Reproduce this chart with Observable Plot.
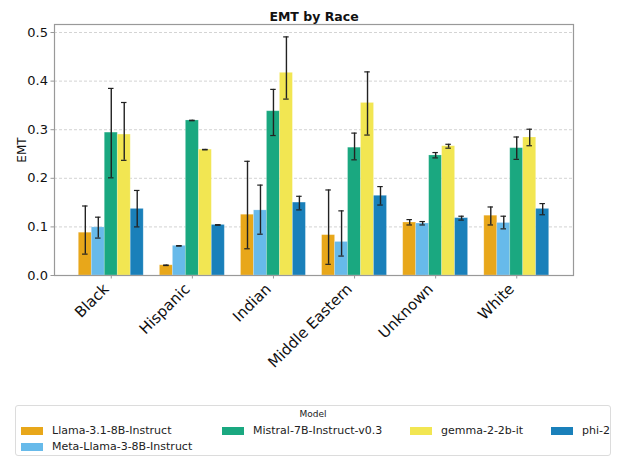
<!DOCTYPE html>
<html>
<head>
<meta charset="utf-8">
<script src="https://cdn.jsdelivr.net/npm/d3@7"></script>
<script src="https://cdn.jsdelivr.net/npm/@observablehq/plot@0.6"></script>
<style>
  body { margin: 0; background: white; font-family: "DejaVu Sans", sans-serif; }
  #wrap { position: relative; width: 618px; height: 465px; }
  #legend { position: absolute; left: 15px; top: 405px; width: 596px; height: 51px;
    border: 1px solid #dcdcdc; border-radius: 3px; box-sizing: border-box; font-size: 11px; color: #222; }
  #legend .ttl { position: absolute; top: 3px; left: 0; width: 100%; text-align: center; font-size: 9px; }
  .item { position: absolute; display: flex; align-items: center; white-space: nowrap; }
  .sw { width: 22px; height: 8px; margin-right: 9px; }
</style>
</head>
<body>
<div id="wrap"><div id="chart"></div><div id="legend"><div class="ttl">Model</div></div></div>
<script>
const races = ["Black", "Hispanic", "Indian", "Middle Eastern", "Unknown", "White"];
const models = ["Llama-3.1-8B-Instruct", "Meta-Llama-3-8B-Instruct", "Mistral-7B-Instruct-v0.3", "gemma-2-2b-it", "phi-2"];
const colors = ["#E8A71A", "#67BAEA", "#1AA880", "#F2E652", "#1A80BA"];
const yTicks = [0, 0.1, 0.2, 0.3, 0.4, 0.5];

const llamaVals = [0.088, 0.021, 0.125, 0.083, 0.109, 0.123];
const metaVals = [0.099, 0.061, 0.134, 0.069, 0.107, 0.108];
const mistralVals = [0.294, 0.319, 0.338, 0.263, 0.247, 0.262];
const gemmaVals = [0.290, 0.259, 0.417, 0.355, 0.266, 0.284];
const phiVals = [0.137, 0.104, 0.150, 0.164, 0.118, 0.137];

const llamaLo = [0.044, 0.0205, 0.055, 0.023, 0.104, 0.104];
const llamaHi = [0.143, 0.0215, 0.235, 0.176, 0.115, 0.141];
const metaLo = [0.077, 0.0605, 0.085, 0.040, 0.104, 0.096];
const metaHi = [0.120, 0.0615, 0.186, 0.133, 0.111, 0.122];
const mistralLo = [0.201, 0.3185, 0.288, 0.238, 0.242, 0.239];
const mistralHi = [0.385, 0.3195, 0.383, 0.293, 0.253, 0.285];
const gemmaLo = [0.237, 0.2585, 0.363, 0.289, 0.262, 0.267];
const gemmaHi = [0.356, 0.2595, 0.491, 0.419, 0.270, 0.301];
const phiLo = [0.100, 0.1035, 0.135, 0.145, 0.114, 0.125];
const phiHi = [0.175, 0.1045, 0.163, 0.183, 0.122, 0.148];

const vals = [llamaVals, metaVals, mistralVals, gemmaVals, phiVals];
const los = [llamaLo, metaLo, mistralLo, gemmaLo, phiLo];
const his = [llamaHi, metaHi, mistralHi, gemmaHi, phiHi];

// seaborn-style dodge: each group is 0.8 wide, split among the models
const groupWidth = 0.8, barW = groupWidth / models.length;
const rows = [];
races.forEach((r, i) => models.forEach((m, j) => {
  const cx = i + (j - (models.length - 1) / 2) * barW;
  rows.push({race: r, model: m, cx, x1: cx - barW / 2, x2: cx + barW / 2,
    value: vals[j][i], lo: los[j][i], hi: his[j][i]});
}));
const capHalf = 0.034;

const chart = Plot.plot({
  width: 618, height: 400,
  marginLeft: 54, marginRight: 45, marginTop: 24, marginBottom: 125,
  style: {fontFamily: "DejaVu Sans, sans-serif", color: "#111", background: "white"},
  x: {domain: [-0.7, races.length - 0.3]},
  y: {domain: [0, 0.5165]},
  color: {domain: models, range: colors},
  marks: [
    Plot.gridY(yTicks.slice(1), {stroke: "#c8c8c8", strokeOpacity: 1, strokeDasharray: "3,2", strokeWidth: 0.8}),
    Plot.rect(rows, {x1: "x1", x2: "x2", y1: 0, y2: "value", fill: "model", stroke: "white", strokeOpacity: 0.25, strokeWidth: 0.8}),
    Plot.ruleX(rows, {x: "cx", y1: "lo", y2: "hi", stroke: "#222", strokeWidth: 1.4}),
    Plot.ruleY(rows, {y: "lo", x1: d => d.cx - capHalf, x2: d => d.cx + capHalf, stroke: "#222", strokeWidth: 1.2}),
    Plot.ruleY(rows, {y: "hi", x1: d => d.cx - capHalf, x2: d => d.cx + capHalf, stroke: "#222", strokeWidth: 1.2}),
    Plot.frame({stroke: "#999", strokeWidth: 1.2}),
    Plot.axisY({ticks: yTicks, tickFormat: d3.format(".1f"), tickSize: 3.5, tickPadding: 3, fontSize: 13, label: null, stroke: "#999"}),
    Plot.axisX({ticks: d3.range(races.length), tickFormat: () => "", tickSize: 3.5, label: null, stroke: "#999"}),
    // rotated category labels, right/top-aligned to each tick like matplotlib's rotation=45, ha="right"
    Plot.text(races, {x: d => races.indexOf(d), y: 0, text: d => d, rotate: -45, textAnchor: "end", lineAnchor: "middle",
      dx: -5, dy: 11, fontSize: 15, fill: "#111"}),
    Plot.text(["EMT"], {frameAnchor: "left", textAnchor: "middle", lineAnchor: "middle", rotate: -90, dx: -32, fontSize: 12}),
    Plot.text(["EMT by Race"], {frameAnchor: "top", lineAnchor: "middle", dy: -8, fontSize: 12.5, fontWeight: "bold"})
  ]
});
document.getElementById("chart").appendChild(chart);

const legend = document.getElementById("legend");
const pos = [[5, 18], [5, 34], [206, 18], [394, 18], [535, 18]];
models.forEach((m, j) => {
  const it = document.createElement("div");
  it.className = "item";
  it.style.left = pos[j][0] + "px";
  it.style.top = pos[j][1] + "px";
  it.innerHTML = `<span class="sw" style="background:${colors[j]}"></span><span>${m}</span>`;
  legend.appendChild(it);
});
</script>
</body>
</html>
